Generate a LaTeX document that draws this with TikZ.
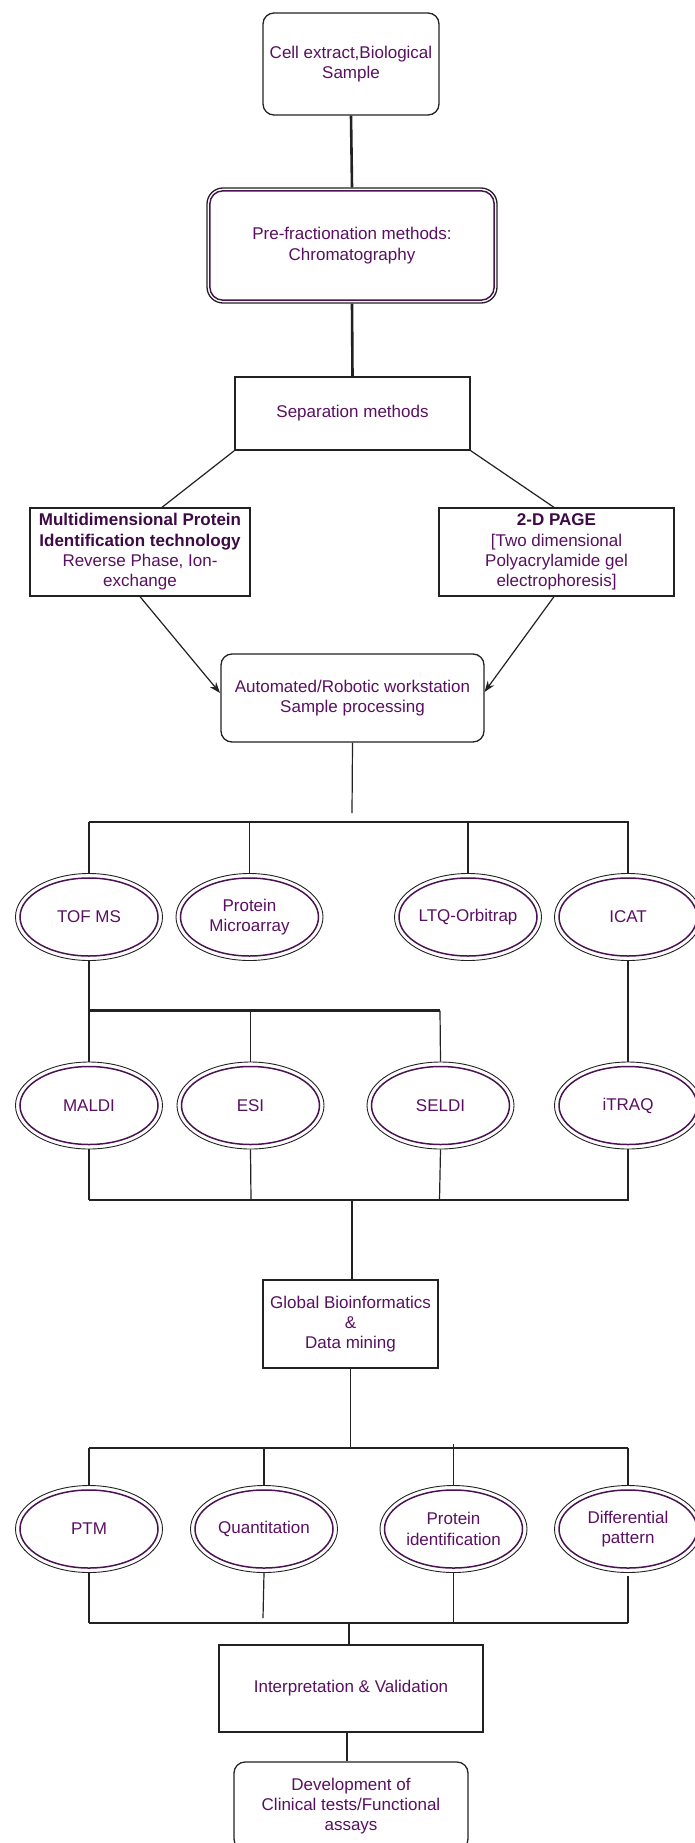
\documentclass[tikz,border=0pt]{standalone}
\usepackage{fontspec}
\setmainfont{Liberation Sans}
\usetikzlibrary{shapes.geometric,arrows.meta}
\definecolor{txt}{HTML}{5A1062}
\definecolor{txtb}{HTML}{3E0A46}
\definecolor{ring}{HTML}{4A1252}
\definecolor{edge}{HTML}{222222}
\begin{document}
\begin{tikzpicture}[x=1pt,y=-1pt,
  every node/.style={font=\fontsize{17}{20.3}\selectfont, text=txt, align=center, inner sep=0pt},
  sqbox/.style={draw=edge, line width=1.3pt},
  rbox/.style={draw=edge, line width=1.3pt, rounded corners=11pt},
  ell/.style={ellipse, draw=edge, line width=0.9pt, minimum width=147pt, minimum height=87pt},
  ringline/.style={draw=ring, line width=1.5pt},
  thin/.style={draw=edge, line width=1.2pt},
  thick/.style={draw=edge, line width=2.6pt},
  bus/.style={draw=edge, line width=2.3pt},
  arr/.style={draw=edge, line width=1.2pt, -{Stealth[length=11pt,width=8pt]}}]
\fill[white] (0,0) rectangle (694,1843);
\useasboundingbox (0,0) rectangle (694,1843);

% top boxes
\node[rbox, minimum width=176pt, minimum height=102pt] (cell) at (351,64) {Cell extract,Biological\\Sample};
\node[rbox, rounded corners=16pt, minimum width=290pt, minimum height=115pt] (pre) at (352,245.5) {Pre-fractionation methods:\\Chromatography};
\draw[ringline, rounded corners=13pt] ([shift={(3.5pt,-3.5pt)}]pre.north west) rectangle ([shift={(-3.5pt,3.5pt)}]pre.south east);
\node[sqbox, minimum width=235pt, minimum height=73pt] (sep) at (352.5,413.5) {Separation methods};

\node[sqbox, minimum width=220pt, minimum height=88pt] (mud) at (140,552)
  {\textcolor{txtb}{\bfseries Multidimensional Protein}\\\textcolor{txtb}{\bfseries Identification technology}\\Reverse Phase, Ion-\\exchange};
\node[sqbox, minimum width=235pt, minimum height=88pt] (page) at (556.5,552)
  {\textcolor{txtb}{\bfseries 2-D PAGE}\\{[}Two dimensional\\Polyacrylamide gel\\electrophoresis]};

\node[rbox, minimum width=263pt, minimum height=88pt] (auto) at (352.5,698) {Automated/Robotic workstation\\Sample processing};

% ellipses row 1
\node[ell] (tof) at (89,917) {TOF MS};
\node[ell] (micro) at (249.5,917) {Protein\\Microarray};
\node[ell] (ltq) at (468,917) {LTQ-Orbitrap};
\node[ell] (icat) at (628,917) {ICAT};
% row 2
\node[ell] (maldi) at (89,1105.5) {MALDI};
\node[ell] (esi) at (250.5,1105.5) {ESI};
\node[ell] (seldi) at (440.5,1105.5) {SELDI};
\node[ell] (itraq) at (628,1105.5) {iTRAQ};

\node[sqbox, minimum width=175pt, minimum height=88pt] (glob) at (350.5,1324) {Global Bioinformatics\\\&\\Data mining};

% row 3
\node[ell] (ptm) at (89,1529) {PTM};
\node[ell] (quant) at (264,1529) {Quantitation};
\node[ell] (pid) at (453.5,1529) {Protein\\identification};
\node[ell] (diff) at (628,1529) {Differential\\pattern};

\node[sqbox, minimum width=264pt, minimum height=87pt] (interp) at (351,1688.5) {Interpretation \& Validation};
\node[rbox, minimum width=234pt, minimum height=88pt] (dev) at (351,1806) {Development of\\Clinical tests/Functional\\assays};

% inner rings of ellipses
\foreach \n in {tof,micro,ltq,icat,maldi,esi,seldi,itraq,ptm,quant,pid,diff}
  \draw[ringline] (\n.center) ellipse [x radius=69pt, y radius=39pt];

% connectors at top
\draw[thick] (cell.south) -- (pre.north);
\draw[thick] (pre.south) -- (sep.north);
\draw[thin] (sep.south west) -- (mud.north east -| 162,0);
\draw[thin] (sep.south east) -- (page.north -| 554,0);
\draw[arr] (mud.south -| 140,0) -- (220,693);
\draw[arr] (page.south -| 554,0) -- (484.5,692);

% bus 1
\coordinate (b1l) at (89,822);
\coordinate (b1r) at (629,822);
\coordinate (b1c) at (352,813);
\draw[thin] (auto.south) -- (b1c);
\draw[bus] (b1l) -- (b1r);
\draw[thin] (b1l) -- (tof.north);
\draw[thin] (micro.north |- b1l) -- (micro.north);
\draw[thin] (ltq.north |- b1l) -- (ltq.north);
\draw[thin] (b1r -| icat.north) -- (icat.north);

% bus 2
\coordinate (b2l) at (89,1010.5);
\coordinate (b2r) at (440,1010.5);
\draw[thin] (tof.south) -- (b2l);
\draw[bus] (b2l) -- (b2r);
\draw[thin] (b2l) -- (maldi.north);
\draw[thin] (esi.north |- b2l) -- (esi.north);
\draw[thin] (b2r) -- (seldi.north);
\draw[thin] (icat.south) -- (itraq.north);

% bus 3
\coordinate (b3l) at (89,1200);
\coordinate (b3r) at (629,1200);
\draw[bus] (b3l) -- (b3r);
\draw[thin] (maldi.south) -- (maldi.south |- b3l);
\draw[thin] (esi.south) -- (251,1200);
\draw[thin] (seldi.south) -- (439.5,1200);
\draw[thin] (itraq.south) -- (itraq.south |- b3l);
\draw[thin] (glob.north -| 352,0) ++(0,-80) coordinate (b3c) -- (glob.north -| 352,0);

% bus 4
\coordinate (b4l) at (89,1448);
\coordinate (b4r) at (628,1448);
\draw[thin] (glob.south) -- (glob.south |- b4l);
\draw[bus] (b4l) -- (b4r);
\draw[thin] (b4l) -- (ptm.north);
\draw[thin] (quant.north |- b4l) -- (quant.north);
\draw[thin] (453.5,1444) -- (pid.north);
\draw[thin] (b4r) -- (diff.north);

% bus 5
\coordinate (b5l) at (89,1623);
\coordinate (b5r) at (628,1623);
\draw[bus] (b5l) -- (b5r);
\draw[thin] (ptm.south) -- (ptm.south |- b5l);
\draw[thin] (quant.south) -- (263,1618);
\draw[thin] (pid.south) -- (pid.south |- b5l);
\draw[thin] (628,1576) -- (b5r);
\draw[thin] (interp.north -| 349,0) ++(0,-22) coordinate (b5c) -- (interp.north -| 349,0);
\draw[thin] (interp.south -| 347,0) -- (dev.north -| 347,0);
\end{tikzpicture}
\end{document}
